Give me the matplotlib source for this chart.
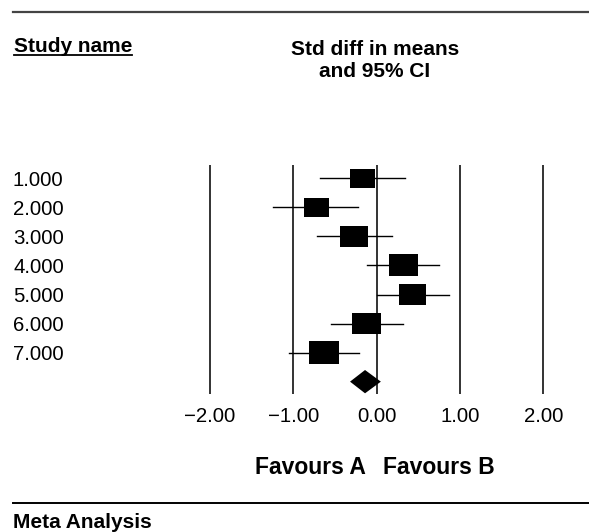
import matplotlib
matplotlib.use("Agg")
import matplotlib.pyplot as plt
import matplotlib.transforms as mtransforms
from matplotlib.patches import Rectangle, Polygon
from matplotlib.lines import Line2D

plt.rcParams['font.family'] = ['Liberation Sans', 'DejaVu Sans']

# ---- data ----
studies = ["1.000", "2.000", "3.000", "4.000", "5.000", "6.000", "7.000"]
effect = [-0.17, -0.72, -0.27, 0.32, 0.43, -0.12, -0.63]
ci_low = [-0.68, -1.24, -0.72, -0.12, 0.00, -0.55, -1.05]
ci_high = [0.34, -0.22, 0.18, 0.75, 0.87, 0.32, -0.21]
weights = [11.8, 11.8, 14.7, 15.6, 14.3, 14.9, 17.0]
summary = [-0.14, -0.32, 0.05]  # estimate, lower, upper
ticks = [-2.0, -1.0, 0.0, 1.0, 2.0]
tick_labels = ["\u22122.00", "\u22121.00", "0.00", "1.00", "2.00"]

W, H = 589, 532
fig = plt.figure(figsize=(W / 100, H / 100), dpi=100)

def fy(py):
    return 1 - py / H

# axes geometry (pixels): x 0 at 376.7, 83.3 px per unit; rows 29.05 px apart
x0px, ppu = 376.7, 83.3
xmin, xmax = -2.3, 2.3
top_px, bot_px = 165.0, 394.3
row1_px, rowh = 178.3, 29.05
ytop = 1 - (row1_px - top_px) / rowh
ybot = 1 + (bot_px - row1_px) / rowh
ax = fig.add_axes([(x0px + xmin * ppu) / W, fy(bot_px),
                   (xmax - xmin) * ppu / W, (bot_px - top_px) / H])
ax.set_xlim(xmin, xmax)
ax.set_ylim(ybot, ytop)
for s in ax.spines.values():
    s.set_visible(False)
ax.set_yticks([])
ax.set_xticks(ticks)
ax.set_xticklabels(tick_labels, fontsize=14.7)
ax.tick_params(axis='x', length=0, pad=9)

for t in ticks:
    ax.axvline(t, color='#333333', lw=1.4, zorder=1)

n = len(studies)
for i in range(n):
    y = i + 1
    ax.plot([ci_low[i], ci_high[i]], [y, y], color='black', lw=1.0, zorder=2)
    s = 6.42 * weights[i] ** 0.5
    w = 1.15 * s / ppu
    h = 0.87 * s / rowh
    ax.add_patch(Rectangle((effect[i] - w / 2, y - h / 2), w, h,
                           facecolor='black', edgecolor='none', zorder=3))

yd = n + 1
hd = 11.65 / rowh
ax.add_patch(Polygon([(summary[1], yd), (summary[0], yd - hd),
                      (summary[2], yd), (summary[0], yd + hd)],
                     closed=True, facecolor='black', edgecolor='none', zorder=3))

# study labels
tr = mtransforms.blended_transform_factory(fig.transFigure, ax.transData)
for i, lab in enumerate(studies):
    ax.text(13 / W, i + 1, lab, transform=tr, fontsize=14.7,
            ha='left', va='center_baseline')

# headers
fig.add_artist(Line2D([13 / W, 1], [fy(11.7), fy(11.7)], color='#444444', lw=1.6))
fig.add_artist(Line2D([13 / W, 1], [fy(502.7), fy(502.7)], color='black', lw=1.4))

st = fig.text(14 / W, fy(51.7), "Study name", fontsize=15, fontweight='bold',
              ha='left', va='baseline')
fig.text(375 / W, fy(55), "Std diff in means", fontsize=15, fontweight='bold',
         ha='center', va='baseline')
fig.text(375 / W, fy(76.7), "and 95% CI", fontsize=15, fontweight='bold',
         ha='center', va='baseline')

fig.text(365.7 / W, fy(474.3), "Favours A", fontsize=16.5, fontweight='bold',
         ha='right', va='baseline')
fig.text(382.7 / W, fy(474.3), "Favours B", fontsize=16.5, fontweight='bold',
         ha='left', va='baseline')
fig.text(13 / W, fy(528), "Meta Analysis", fontsize=15, fontweight='bold',
         ha='left', va='baseline')

fig.canvas.draw()
bb = st.get_window_extent()
fig.add_artist(Line2D([bb.x0 / W, bb.x1 / W], [fy(54.5), fy(54.5)],
                      color='black', lw=1.3))

fig.savefig("out.png", dpi=100)
